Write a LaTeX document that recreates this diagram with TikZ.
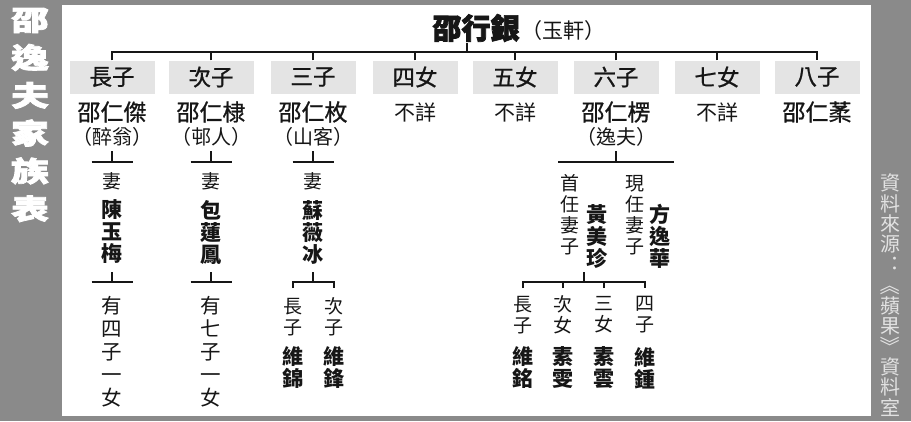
\documentclass[tikz,border=0pt]{standalone}
\usepackage{fontspec}
\usepackage{graphicx}
\newfontfamily\cjk{Noto Sans CJK TC}
\newfontfamily\cjkmed{Noto Sans CJK TC}[FakeBold=0.9]
\newfontfamily\cjkheavy{Noto Sans CJK TC}[FakeBold=2.5]
\definecolor{bggray}{RGB}{138,138,138}
\definecolor{boxgray}{RGB}{228,228,228}
\definecolor{ink}{RGB}{22,22,22}
\definecolor{srcgray}{RGB}{226,226,226}
\newcommand{\vrot}[1]{\rotatebox[origin=c]{-90}{#1}}
\tikzset{
  conn/.style={line width=2.6pt, draw=ink},
  rolebox/.style={fill=boxgray, minimum width=85pt, minimum height=33pt, inner sep=0pt, text=ink, font={\cjkmed\fontsize{22.5}{24}\selectfont}},
  namefont/.style={inner sep=0pt, text=ink, font={\cjkmed\fontsize{23}{25}\selectfont}},
  aliasfont/.style={inner sep=0pt, text=ink, font={\cjk\fontsize{20}{22}\selectfont}},
  unkfont/.style={inner sep=0pt, text=ink, font={\cjk\fontsize{21}{23}\selectfont}},
  tagfont/.style={inner sep=0pt, text=ink, align=center, font={\cjk\fontsize{19}{21}\selectfont}},
  vname/.style={inner sep=0pt, text=ink, align=center, font={\cjk\bfseries\fontsize{21}{22}\selectfont}},
  kidsfont/.style={inner sep=0pt, text=ink, align=center, font={\cjk\fontsize{20.5}{23}\selectfont}},
}
\begin{document}
\begin{tikzpicture}[x=1pt,y=-1pt]
\path[use as bounding box, fill=bggray] (0,0) rectangle (911,421);
\fill[white] (62,5) rectangle (871,416);

% side titles
\node[inner sep=0pt, text=white, align=center, font={\cjkheavy\bfseries\fontsize{28}{37.8}\selectfont}] (sidetitle) at (30,115)
  {\scalebox{1.35}[1]{邵}\\\scalebox{1.35}[1]{逸}\\\scalebox{1.35}[1]{夫}\\\scalebox{1.35}[1]{家}\\\scalebox{1.35}[1]{族}\\\scalebox{1.35}[1]{表}};
\node[inner sep=0pt, text=srcgray, align=center, font={\cjk\fontsize{20}{20.4}\selectfont}] (source) at (890,295)
  {資\\料\\來\\源\\︓\\\vrot{《}\\蘋\\果\\\vrot{》}\\資\\料\\室};

% root
\node[inner sep=0pt, text=ink, font={\cjkheavy\bfseries\fontsize{29}{31}\selectfont}] (root) at (476,28) {邵行銀};
\node[inner sep=0pt, text=ink, font={\cjk\fontsize{21}{23}\selectfont}] (rootalt) at (563,31) {（玉軒）};
\coordinate (rt) at (467,52);
\coordinate (rta) at (467,43);

% role boxes
\node[rolebox] (r1) at (112,77) {長子};
\node[rolebox] (r2) at (211,77) {次子};
\node[rolebox] (r3) at (313,77) {三子};
\node[rolebox] (r4) at (415,77) {四女};
\node[rolebox] (r5) at (515,77) {五女};
\node[rolebox] (r6) at (616,77) {六子};
\node[rolebox] (r7) at (717,77) {七女};
\node[rolebox] (r8) at (817,77) {八子};

\draw[conn] (rta) -- (rt);
\draw[conn] (r1.north) -- (r1.north |- rt) -- (r8.north |- rt) -- (r8.north);
\foreach \k in {2,...,7} { \draw[conn] (r\k.north) -- (r\k.north |- rt); }

% names
\node[namefont] (n1) at (112,112) {邵仁傑};
\node[aliasfont] (a1) at (112,137) {（醉翁）};
\node[namefont] (n2) at (211,112) {邵仁棣};
\node[aliasfont] (a2) at (211,137) {（邨人）};
\node[namefont] (n3) at (313,112) {邵仁枚};
\node[aliasfont] (a3) at (313,137) {（山客）};
\node[unkfont] (n4) at (415,112) {不詳};
\node[unkfont] (n5) at (515,112) {不詳};
\node[namefont] (n6) at (616,112) {邵仁楞};
\node[aliasfont] (a6) at (616,137) {（逸夫）};
\node[unkfont] (n7) at (717,112) {不詳};
\node[namefont] (n8) at (817,112) {邵仁葇};

% columns 1-3: spouse
\foreach \k/\x in {1/112,2/211,3/313} {
  \coordinate (sa\k) at (\x,151);
  \coordinate (sb\k) at (\x,162);
  \coordinate (sl\k) at (\x-20.5,162);
  \coordinate (sr\k) at (\x+20.5,162);
  \draw[conn] (sa\k) -- (sb\k);
  \draw[conn] (sl\k) -- (sr\k);
  \node[tagfont] (wt\k) at (\x,181) {妻};
}
\node[vname] (w1) at (112,232) {陳\\玉\\梅};
\node[vname] (w2) at (211,232) {包\\蓮\\鳳};
\node[vname] (w3) at (313,232) {蘇\\薇\\冰};

\foreach \k/\x in {1/112,2/211,3/313} {
  \coordinate (ta\k) at (\x,272);
  \coordinate (tb\k) at (\x,282);
  \coordinate (tl\k) at (\x-20.5,282);
  \coordinate (tr\k) at (\x+20.5,282);
  \draw[conn] (ta\k) -- (tb\k);
}
\draw[conn] (tl1) -- (tr1);
\draw[conn] (tl2) -- (tr2);
\node[kidsfont] (k1) at (112,352) {有\\四\\子\\一\\女};
\node[kidsfont] (k2) at (211,352) {有\\七\\子\\一\\女};

% column 3 children
\coordinate (k3a) at (293,288);
\coordinate (k3b) at (334,288);
\draw[conn] (k3a) |- (tb3) -| (k3b);
\node[tagfont] (g31) at (293,317) {長\\子};
\node[tagfont] (g32) at (334,317) {次\\子};
\node[vname] (h31) at (293,368) {維\\錦};
\node[vname] (h32) at (334,368) {維\\鋒};

% column 6
\coordinate (sa6) at (616,151);
\coordinate (sb6) at (616,162);
\coordinate (sl6) at (558,162);
\coordinate (sr6) at (674,162);
\draw[conn] (sa6) -- (sb6);
\draw[conn] (sl6) -- (sr6);
\node[tagfont] (f1t) at (570,215) {首\\任\\妻\\子};
\node[vname] (f1) at (597,237) {黃\\美\\珍};
\node[tagfont] (f2t) at (635,215) {現\\任\\妻\\子};
\node[vname] (f2) at (660,236) {方\\逸\\華};

\coordinate (ta6) at (584,272);
\coordinate (tb6) at (584,282);
\coordinate (q1) at (523,288);
\coordinate (q2) at (563,288);
\coordinate (q3) at (604,288);
\coordinate (q4) at (645,288);
\draw[conn] (ta6) -- (tb6);
\draw[conn] (q1) |- (tb6) -| (q4);
\draw[conn] (q2) -- (q2 |- tb6);
\draw[conn] (q3) -- (q3 |- tb6);
\node[tagfont] (g61) at (523,315) {長\\子};
\node[tagfont] (g62) at (563,315) {次\\女};
\node[tagfont] (g63) at (604,315) {三\\女};
\node[tagfont] (g64) at (645,315) {四\\子};
\node[vname] (h61) at (523,368) {維\\銘};
\node[vname] (h62) at (563,368) {素\\雯};
\node[vname] (h63) at (604,368) {素\\雲};
\node[vname] (h64) at (645,368) {維\\鍾};
\end{tikzpicture}
\end{document}
